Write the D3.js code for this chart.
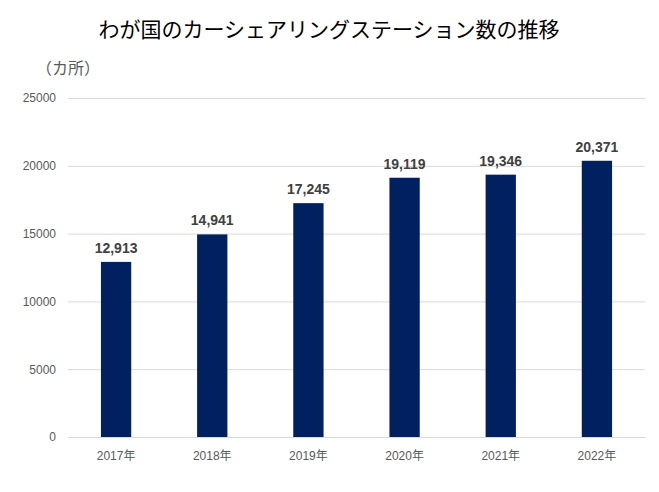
<!DOCTYPE html>
<html><head><meta charset="utf-8">
<script src="https://cdn.jsdelivr.net/npm/d3@7"></script>
<style>body{margin:0;background:#fff}svg{display:block}</style>
</head><body>
<svg id="c" width="659" height="492"></svg>
<script>
const categories = ["2017年","2018年","2019年","2020年","2021年","2022年"];
const values = [12913,14941,17245,19119,19346,20371];
const yTicks = [0,5000,10000,15000,20000,25000];
const title = "わが国のカーシェアリングステーション数の推移";
const unit = "（カ所）";

const svg = d3.select("#c");
const m = {l:68, r:14, t:98, b:55};
const W = 659, H = 492;
const x = d3.scaleBand().domain(categories).range([m.l, W - m.r]).paddingInner(0.685).paddingOuter(0.3425);
const y = d3.scaleLinear().domain([0,25000]).range([437, 98]);
const font = "'Liberation Sans', Arial, 'Noto Sans CJK JP', sans-serif";

svg.append("text").attr("x", 329).attr("y", 37).attr("text-anchor","middle")
  .attr("font-family","'Noto Sans CJK JP', sans-serif").attr("font-size",21).attr("font-weight",400)
  .attr("fill","#000").text(title);
svg.append("text").attr("x", 36).attr("y", 74)
  .attr("font-family","'Noto Sans CJK JP', sans-serif").attr("font-size",16)
  .attr("fill","#595959").text(unit);

const ya = d3.axisLeft(y).tickValues(yTicks).tickSize(-(W - m.r - m.l)).tickPadding(12).tickFormat(d3.format("d"));
const gy = svg.append("g").attr("transform",`translate(${m.l},0)`).call(ya);
gy.select(".domain").remove();
gy.selectAll(".tick line").attr("stroke","#d9d9d9").attr("stroke-width",1);
gy.selectAll(".tick text").attr("font-family",font).attr("font-size",12).attr("fill","#595959");

const xa = d3.axisBottom(x).tickSize(0).tickPadding(14);
const gx = svg.append("g").attr("transform",`translate(0,437)`).call(xa);
gx.select(".domain").attr("stroke","#d9d9d9");
gx.selectAll(".tick text").attr("font-family",font).attr("font-size",12).attr("fill","#595959");

svg.append("g").selectAll("rect").data(values).join("rect")
  .attr("x",(d,i)=>x(categories[i])).attr("width",x.bandwidth())
  .attr("y",d=>y(d)).attr("height",d=>437 - y(d)).attr("fill","#002060");

svg.append("g").selectAll("text").data(values).join("text")
  .attr("x",(d,i)=>x(categories[i]) + x.bandwidth()/2).attr("y",d=>y(d) - 9)
  .attr("text-anchor","middle").attr("font-family",font).attr("font-size",14).attr("font-weight","bold")
  .attr("fill","#404040").text(d=>d3.format(",")(d));
</script>
</body></html>
